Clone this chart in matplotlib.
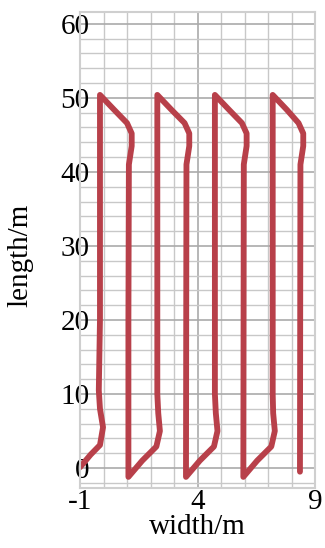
import matplotlib
matplotlib.use("Agg")
import matplotlib.pyplot as plt
import numpy as np

# Trajectory (width/m, length/m)
path_x = [-1.0, -0.55, -0.15, -0.02, -0.15, -0.2, -0.15, -0.15,
          0.45, 1.0, 1.2, 1.2, 1.08, 1.06, 1.06,
          1.65, 2.25, 2.4, 2.33, 2.29, 2.29,
          2.89, 3.45, 3.65, 3.65, 3.53, 3.51,
          4.1, 4.7, 4.85, 4.78, 4.74, 4.74,
          5.34, 5.89, 6.09, 6.09, 5.97, 5.95,
          6.54, 7.14, 7.29, 7.22, 7.2, 7.2,
          7.8, 8.3, 8.5, 8.5, 8.38, 8.36]
path_y = [0.1, 1.8, 3.1, 5.5, 8.0, 10.5, 20.0, 50.4,
          48.4, 46.6, 45.2, 43.5, 41.0, 20.0, -1.2,
          1.0, 2.9, 5.0, 7.4, 10.0, 50.4,
          48.4, 46.6, 45.2, 43.5, 41.0, -1.2,
          1.0, 2.9, 5.0, 7.4, 10.0, 50.4,
          48.4, 46.6, 45.2, 43.5, 41.0, -1.2,
          1.0, 2.9, 5.0, 7.4, 10.0, 50.4,
          48.4, 46.6, 45.2, 43.5, 41.0, -0.5]

x_ticks = [-1, 4, 9]
x_tick_labels = ["-1", "4", "9"]
y_ticks = [0, 10, 20, 30, 40, 50, 60]
y_tick_labels = ["0", "10", "20", "30", "40", "50", "60"]
x_label = "width/m"
y_label = "length/m"

plt.rcParams['font.family'] = ['Liberation Serif', 'DejaVu Serif']

fig = plt.figure(figsize=(3.25, 5.48), dpi=100)
ax = fig.add_axes([80/325, 60/548, 235/325, 476/548])

ax.set_xlim(-1, 9)
ax.set_ylim(-2.7, 61.6)

ax.set_xticks(x_ticks)
ax.set_xticklabels(x_tick_labels)
ax.set_yticks(y_ticks)
ax.set_yticklabels(y_tick_labels)
ax.set_xticks(np.arange(-1, 10, 1), minor=True)
ax.set_yticks(np.arange(-2, 62, 2), minor=True)
ax.grid(which='minor', color='#c8c8c8', lw=1.0)
ax.grid(which='major', color='#aaaaaa', lw=1.2)
ax.set_axisbelow(True)

ax.tick_params(which='both', length=0)
ax.tick_params(axis='x', labelsize=21, pad=1)
ax.tick_params(axis='y', labelsize=21, pad=-7)
for sp in ax.spines.values():
    sp.set_color('#cfcfcf')
    sp.set_linewidth(1.5)

ax.plot(path_x, path_y, color='#b8404a', lw=4.2, solid_joinstyle='round',
        solid_capstyle='round')

ax.set_xlabel(x_label, fontsize=21, va='center')
ax.set_ylabel(y_label, fontsize=21, va='center')
ax.xaxis.set_label_coords((197 - 80) / 235, (488 - 527) / 476)
ax.yaxis.set_label_coords((20 - 80) / 235, (488 - 255) / 476)

fig.savefig("out.png", dpi=100)
